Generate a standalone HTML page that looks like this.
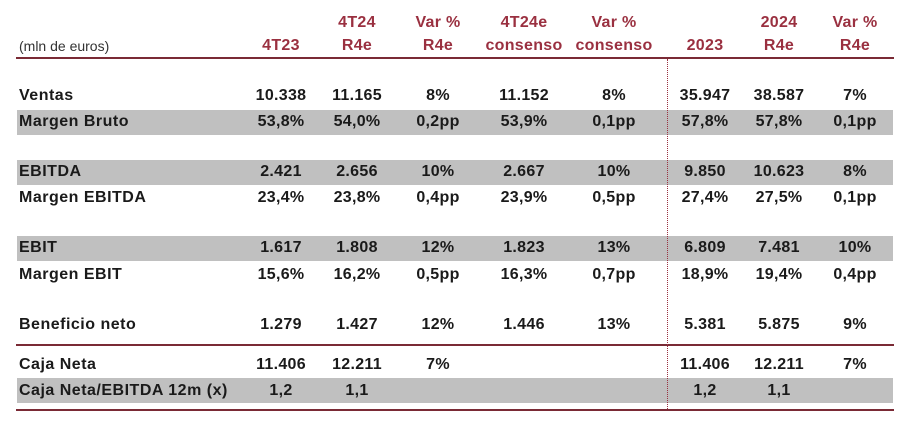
<!DOCTYPE html>
<html><head><meta charset="utf-8"><style>
body{margin:0;width:905px;height:424px;background:#fff;position:relative;overflow:hidden;font-family:"Liberation Sans",Arial,sans-serif;}
.t{position:absolute;white-space:nowrap;font-weight:bold;font-size:16px;letter-spacing:0.3px;color:#1a1a1a;transform:translate(-50%,-50%);}
.l{position:absolute;white-space:nowrap;font-weight:bold;font-size:16px;letter-spacing:0.5px;color:#1a1a1a;transform:translateY(-50%);left:19px;}
.h{position:absolute;white-space:nowrap;font-weight:bold;font-size:16px;letter-spacing:0.3px;color:#9a3040;transform:translate(-50%,-50%);}
.band{position:absolute;left:17px;width:876px;height:25px;background:#c0c0c0;}
.hl{position:absolute;left:16px;width:878px;height:2px;background:#7a2a35;}
</style></head><body>
<div class="band" style="top:110px"></div>
<div class="band" style="top:160px"></div>
<div class="band" style="top:236px"></div>
<div class="band" style="top:378px"></div>
<div class="hl" style="top:57px"></div>
<div class="hl" style="top:344px"></div>
<div class="hl" style="top:409px"></div>
<div style="position:absolute;left:667px;top:59px;height:350px;border-left:1px dotted #9a3040"></div>
<div style="position:absolute;left:19px;top:46px;transform:translateY(-50%);font-size:14px;color:#333">(mln de euros)</div>
<div id="root"></div>
<script>
const cols=[281,357,438,524,614,705,779,855];
const head1=["","4T24","Var %","4T24e","Var %","","2024","Var %"];
const head2=["4T23","R4e","R4e","consenso","consenso","2023","R4e","R4e"];
const rowNames=["Ventas","Margen Bruto","EBITDA","Margen EBITDA","EBIT","Margen EBIT","Beneficio neto","Caja Neta","Caja Neta/EBITDA 12m (x)"];
const rowY=[96,122,172,198,248,275,325,365,391];
const values=[
["10.338","11.165","8%","11.152","8%","35.947","38.587","7%"],
["53,8%","54,0%","0,2pp","53,9%","0,1pp","57,8%","57,8%","0,1pp"],
["2.421","2.656","10%","2.667","10%","9.850","10.623","8%"],
["23,4%","23,8%","0,4pp","23,9%","0,5pp","27,4%","27,5%","0,1pp"],
["1.617","1.808","12%","1.823","13%","6.809","7.481","10%"],
["15,6%","16,2%","0,5pp","16,3%","0,7pp","18,9%","19,4%","0,4pp"],
["1.279","1.427","12%","1.446","13%","5.381","5.875","9%"],
["11.406","12.211","7%","","","11.406","12.211","7%"],
["1,2","1,1","","","","1,2","1,1",""]];
const root=document.getElementById('root');
function mk(cls,txt,x,y){const d=document.createElement('div');d.className=cls;d.textContent=txt;if(x!==null)d.style.left=x+'px';d.style.top=y+'px';root.appendChild(d);return d;}
cols.forEach((x,i)=>{
 if(head1[i]){const a=mk('h',head1[i],x,23);
 
 }
 const b=mk('h',head2[i],x,46);
 
 
});
rowNames.forEach((n,r)=>{
 const l=mk('l',n,null,rowY[r]);
 
 
 values[r].forEach((v,c)=>{if(!v)return;
  const d=mk('t',v,cols[c],rowY[r]);
  
  
 });
});
</script>
</body></html>
